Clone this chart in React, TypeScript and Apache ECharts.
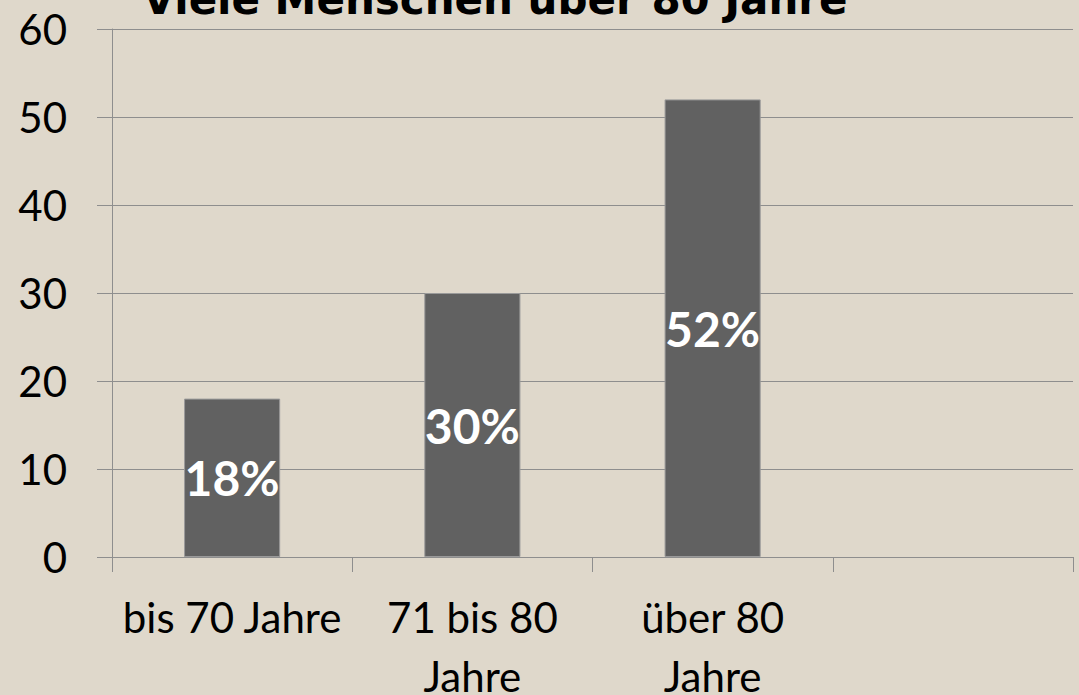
import React, { useEffect, useRef } from "react";
import * as echarts from "echarts";

const titleText = "Viele Menschen über 80 Jahre";
const categories = ["bis 70 Jahre", "71 bis 80\nJahre", "über 80\nJahre", ""];
const values = [18, 30, 52, null];
const yTicks = { min: 0, max: 60, interval: 10 };

export default function App() {
  const ref = useRef<HTMLDivElement>(null);
  useEffect(() => {
    if (!ref.current) return;
    const chart = echarts.init(ref.current, null, { renderer: "svg" });
    const gridColor = "#8e8e8e";
    chart.setOption({
      animation: false,
      backgroundColor: "#dfd8cb",
      graphic: [
        {
          type: "text",
          x: 495,
          y: -1,
          style: {
            text: titleText,
            fontFamily: "DejaVu Sans",
            fontWeight: "bold",
            fontSize: 42,
            fill: "#000",
            align: "center",
            verticalAlign: "middle",
          },
        },
      ],
      grid: {
        left: 112,
        right: 6,
        top: 29,
        bottom: 138,
        containLabel: false,
        outerBoundsMode: "none",
      },
      xAxis: {
        type: "category",
        data: categories,
        boundaryGap: true,
        axisLine: { show: true, lineStyle: { color: gridColor, width: 1 } },
        axisTick: { show: true, interval: 0, alignWithLabel: false, length: 15, lineStyle: { color: gridColor, width: 1 } },
        axisLabel: {
          interval: 0,
          margin: 30,
          fontFamily: "Lato",
          fontSize: 42,
          lineHeight: 59,
          color: "#000",
        },
      },
      yAxis: {
        type: "value",
        min: yTicks.min,
        max: yTicks.max,
        interval: yTicks.interval,
        axisLine: { show: true, lineStyle: { color: gridColor, width: 1 } },
        axisTick: { show: true, length: 15, lineStyle: { color: gridColor, width: 1 } },
        splitLine: { show: true, lineStyle: { color: gridColor, width: 1 } },
        axisLabel: {
          margin: 45,
          fontFamily: "Lato",
          fontSize: 42,
          color: "#000",
        },
      },
      series: [
        {
          type: "bar",
          data: values,
          barWidth: "40%",
          itemStyle: { color: "#616161", borderColor: "#9a9a9a", borderWidth: 1 },
          label: {
            show: true,
            position: "inside",
            formatter: "{c}%",
            fontFamily: "Lato",
            fontWeight: "bold",
            fontSize: 48,
            color: "#fff",
          },
        },
      ],
    });
    return () => chart.dispose();
  }, []);
  return (
    <div
      ref={ref}
      style={{ position: "fixed", left: 0, top: 0, width: 1079, height: 695 }}
    />
  );
}
